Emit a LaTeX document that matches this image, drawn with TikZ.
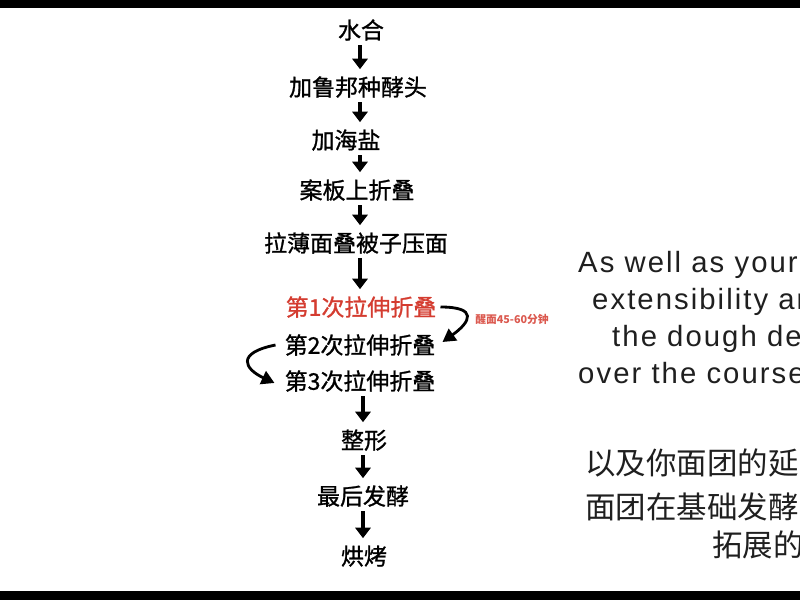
\documentclass[tikz,border=0pt]{standalone}
\usepackage{fontspec}
\newfontfamily\cjk{Noto Sans CJK SC}
\newfontfamily\cjkmid[FakeBold=1.1]{Noto Sans CJK SC}
\newfontfamily\latin[LetterSpace=7]{Liberation Sans}
\usetikzlibrary{arrows.meta}
\definecolor{foldred}{RGB}{212,60,48}

\begin{document}
\begin{tikzpicture}[x=0.03cm,y=-0.03cm,
  stage/.style={font=\cjkmid\fontsize{19.6}{22}\selectfont, inner sep=0pt, text height=15.5pt, text depth=0.5pt},
  down/.style={line width=3.6pt, -{Triangle[width=13pt,length=9pt]}, shorten <=5pt, shorten >=7pt},
  turn/.style={line width=2.4pt, -{Triangle[width=12pt,length=11pt]}},
  side/.style={font=\latin\fontsize{25}{27}\selectfont, anchor=base west, inner sep=0pt, text=black!88},
  sidecn/.style={font=\cjk\fontsize{26}{28}\selectfont, anchor=west, inner sep=0pt, text=black!88}]
  \useasboundingbox (0,0) rectangle (800,600);
  \clip (0,0) rectangle (800,600);
  \fill[black] (0,0) rectangle (800,8);     %top band
  \fill[black] (0,591) rectangle (800,600); %bottom band

  % the steps
  \node[stage] (water)   at (361,30)  {水合};
  \node[stage] (levain)  at (358,87)  {加鲁邦种酵头};
  \node[stage] (salt)    at (346,140) {加海盐};
  \node[stage] (board)   at (357,190) {案板上折叠};
  \node[stage] (press)   at (356,243) {拉薄面叠被子压面};
  \node[stage, text=foldred] (fold1) at (361,307) {第1次拉伸折叠};
  \node[stage] (fold2)   at (360,345) {第2次拉伸折叠};
  \node[stage] (fold3)   at (360,381) {第3次拉伸折叠};
  \node[stage] (shape)   at (364,440) {整形};
  \node[stage] (proof)   at (363,496) {最后发酵};
  \node[stage] (bake)    at (364,556) {烘烤};

  \coordinate (upper) at (360,0);
  \coordinate (lower) at (363,0);
  \foreach \a/\b in {water/levain, levain/salt, salt/board, board/press, press/fold1} { %upper arrows
    \draw[down] (\a.south -| upper) -- (\b.north -| upper);
  }
  \foreach \a/\b in {fold3/shape, shape/proof, proof/bake} { %lower arrows
    \draw[down] (\a.south -| lower) -- (\b.north -| lower);
  }

  % rest between the folds
  \draw[turn] ([shift={(4,0)}]fold1.east) .. controls +(38,0) and +(28,-20) .. ([shift={(7,-3)}]fold2.east);
  \node[font=\cjk\bfseries\fontsize{9.2}{10}\selectfont, text=foldred!85, inner sep=0pt] (rest) at (512,319) {醒面45-60分钟};
  \draw[turn] ([shift={(-9,0)}]fold2.west) .. controls +(-40,8) and +(-30,-14) .. ([shift={(-10,2)}]fold3.west);

  % subtitle on the right
  \node[side] (en1) at (578,273) {As well as your};
  \node[side] (en2) at (592,310) {extensibility an};
  \node[side] (en3) at (612,347) {the dough de};
  \node[side] (en4) at (578,384) {over the course};
  \node[sidecn] (cn1) at (585,463) {以及你面团的延};
  \node[sidecn] (cn2) at (585,507) {面团在基础发酵};
  \node[sidecn] (cn3) at (712,545) {拓展的};
\end{tikzpicture}
\end{document}
